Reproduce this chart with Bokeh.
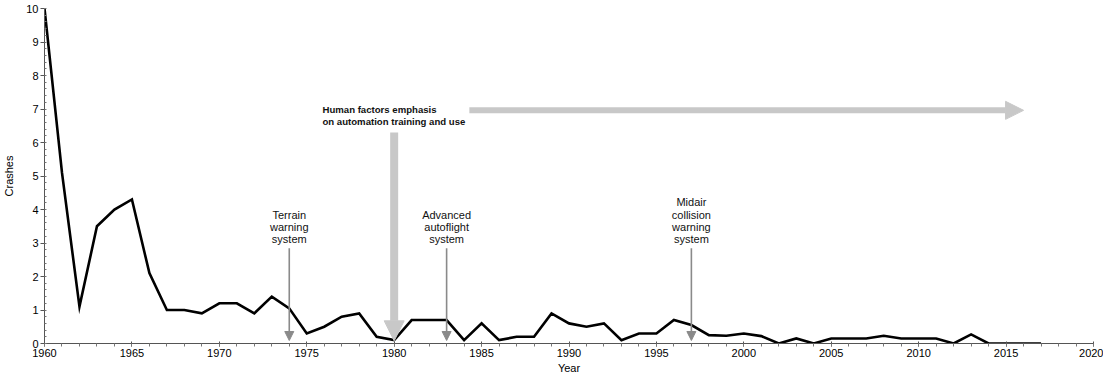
from bokeh.plotting import figure
from bokeh.models import Arrow, NormalHead, Range1d, SingleIntervalTicker
from bokeh.core.properties import value
from bokeh.embed import file_html
from bokeh.resources import INLINE

years = list(range(1960, 2018))
crashes = [10.0, 5.1, 1.1, 3.5, 4.0, 4.3, 2.1, 1.0, 1.0, 0.9,
           1.2, 1.2, 0.9, 1.4, 1.05, 0.3, 0.5, 0.8, 0.9, 0.2,
           0.1, 0.7, 0.7, 0.7, 0.1, 0.6, 0.1, 0.2, 0.2, 0.9,
           0.6, 0.5, 0.6, 0.1, 0.3, 0.3, 0.7, 0.55, 0.25, 0.23,
           0.3, 0.22, 0.0, 0.15, 0.0, 0.15, 0.15, 0.15, 0.23, 0.15,
           0.15, 0.15, 0.0, 0.27, 0.0, 0.0, 0.0, 0.0]

# annotations: (year, label lines)
events = [
    (1974, ["Terrain", "warning", "system"]),
    (1983, ["Advanced", "autoflight", "system"]),
    (1997, ["Midair", "collision", "warning", "system"]),
]
emphasis_year = 1980
emphasis_lines = ["Human factors emphasis", "on automation training and use"]
emphasis_arrow_span = (1984.3, 2016.0)

FONT = "Liberation Sans"

p = figure(frame_width=1049, frame_height=335, output_backend="svg",
           toolbar_location=None, x_range=Range1d(1960, 2020),
           y_range=Range1d(0, 10), min_border_top=8, min_border_right=10,
           min_border_left=0, min_border_bottom=0)
p.outline_line_color = None
p.xgrid.visible = False
p.ygrid.visible = False

p.line(years, crashes, line_color="black", line_width=2.6, line_join="miter")

for ax in (p.xaxis[0], p.yaxis[0]):
    ax.axis_line_color = "#555555"
    ax.major_tick_line_color = "#555555"
    ax.minor_tick_line_color = "#777777"
    ax.major_label_text_font = FONT
    ax.major_label_text_font_size = "11px"
    ax.major_label_text_color = "#000000"
    ax.axis_label_text_font = FONT
    ax.axis_label_text_font_size = "11px"
    ax.axis_label_text_font_style = "normal"
    ax.axis_label_text_color = "#000000"

p.xaxis.ticker = SingleIntervalTicker(interval=5, num_minor_ticks=5)
p.xaxis.major_tick_in = 2
p.xaxis.major_tick_out = 3
p.xaxis.minor_tick_in = 0
p.xaxis.minor_tick_out = 3
p.xaxis.major_label_standoff = 2
p.xaxis.axis_label = "Year"
p.xaxis.axis_label_standoff = 2

p.yaxis.ticker = SingleIntervalTicker(interval=1, num_minor_ticks=5)
p.yaxis.major_tick_in = 0
p.yaxis.major_tick_out = 4
p.yaxis.minor_tick_in = 2
p.yaxis.minor_tick_out = 0
p.yaxis.major_label_standoff = 2
p.yaxis.axis_label = "Crashes"
p.yaxis.axis_label_standoff = 8

# thin event arrows with labels
line_step = 0.36
for yr, lines in events:
    n = len(lines)
    for i, t in enumerate(lines):
        yy = 3.13 + (n - 1 - i) * line_step
        p.text(x=[yr], y=[yy], text=[t], text_align="center",
               text_baseline="middle", text_font=value(FONT),
               text_font_size="11px", text_color="#111111")
    p.add_layout(Arrow(end=NormalHead(size=9, fill_color="#8a8a8a",
                                      line_color="#8a8a8a", line_width=1),
                       x_start=yr, y_start=2.84, x_end=yr, y_end=0.09,
                       line_color="#8a8a8a", line_width=1.6))

# big vertical arrow at 1980
p.add_layout(Arrow(end=NormalHead(size=20, fill_color="#c8c8c8",
                                  line_color="#c8c8c8", line_width=1),
                   x_start=emphasis_year, y_start=6.3, x_end=emphasis_year,
                   y_end=0.08, line_color="#c8c8c8", line_width=8,
                   line_cap="butt"))

# horizontal arrow
p.add_layout(Arrow(end=NormalHead(size=18, fill_color="#c8c8c8",
                                  line_color="#c8c8c8", line_width=1),
                   x_start=emphasis_arrow_span[0], y_start=6.96,
                   x_end=emphasis_arrow_span[1], y_end=6.96,
                   line_color="#c8c8c8", line_width=6, line_cap="butt"))

for i, t in enumerate(emphasis_lines):
    p.text(x=[1975.9], y=[7.0 - i * 0.36], text=[t], text_align="left",
           text_baseline="middle",
           text_font=value(FONT),
           text_font_size="9.6px", text_font_style="bold",
           text_color="#111111")

open("out.html", "w").write(file_html(p, INLINE))
